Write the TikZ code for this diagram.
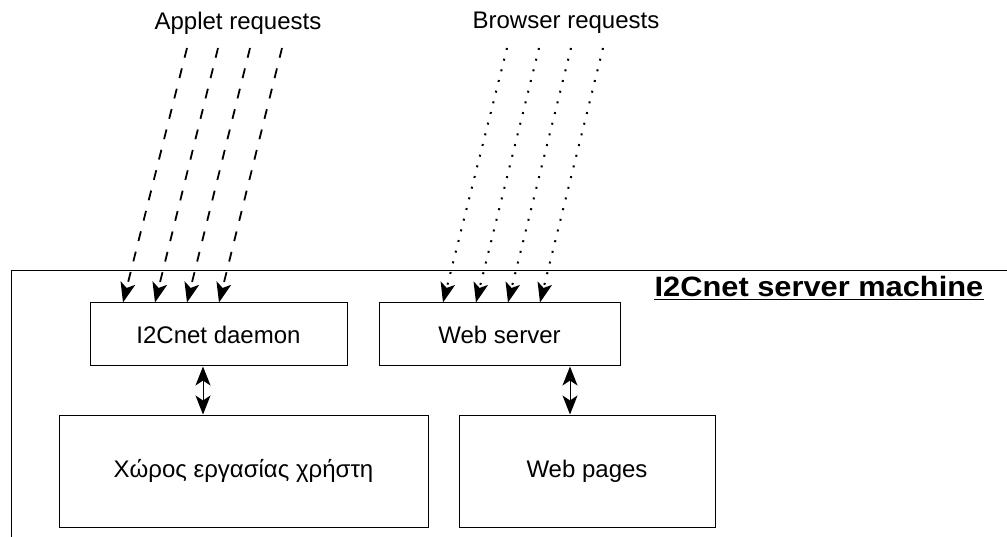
\documentclass[tikz,border=0pt]{standalone}
\usepackage{fontspec}
\setmainfont{Liberation Sans}
\usetikzlibrary{arrows.meta}
\begin{document}
\begin{tikzpicture}[x=1pt,y=-1pt,
  box/.style={draw=black,line width=1pt,inner sep=0pt,align=center,
    font=\fontsize{24}{28}\selectfont},
  lbl/.style={inner sep=0pt,font=\fontsize{24}{28}\selectfont},
  applet/.style={line width=1.8pt,dash pattern=on 10pt off 11pt,
    -{Stealth[length=20pt,width=15pt,inset=5pt]}},
  browser/.style={line width=2pt,dash pattern=on 2pt off 9pt,
    -{Stealth[length=20pt,width=15pt,inset=5pt,line width=0pt]}},
  bidir/.style={line width=1pt,
    {Stealth[length=19pt,width=15pt,inset=5pt]}-{Stealth[length=19pt,width=15pt,inset=5pt]}}]
\useasboundingbox (0,0) rectangle (1007,537);
% frame
\draw[line width=1pt] (1007,271) -- (11,271) -- (11,537);
% boxes
\node[box,minimum width=257pt,minimum height=63pt] (daemon) at (218.5,334.5) {I2Cnet daemon};
\node[box,minimum width=241pt,minimum height=63pt] (websrv) at (499.5,334.5) {Web server};
\node[box,minimum width=369pt,minimum height=112pt] (space) at (243.5,471) {Χώρος εργασίας χρήστη};
\node[box,minimum width=256pt,minimum height=112pt] (pages) at (587,471) {Web pages};
% title
\node[inner sep=0pt,font=\fontsize{28}{32}\selectfont\bfseries] (title) at (819,286) {\scalebox{1.1}[1]{I2Cnet server machine}};
\draw[line width=1.8pt] ([yshift=-3.5pt]title.base west) -- ([yshift=-3.5pt]title.base east);
% labels
\node[lbl] (applab) at (238,23) {Applet requests};
\node[lbl] (brlab) at (566,23) {Browser requests};
% applet request starts and ends
\foreach \i/\sx/\ex in {1/187/123,2/218/155,3/250/187,4/282/219}{
  \coordinate (as\i) at (\sx,48);
  \coordinate (ae\i) at (\ex,0);
  \draw[applet] (as\i) -- (daemon.north -| ae\i);
}
\foreach \i/\sx/\ex in {1/507/443,2/539/476,3/571/508,4/603/540}{
  \coordinate (bs\i) at (\sx,48);
  \coordinate (be\i) at (\ex,0);
  \draw[browser] (bs\i) -- (websrv.north -| be\i);
}
% bidirectional
\coordinate (d1) at (203,0);
\coordinate (d2) at (570,0);
\draw[bidir] (daemon.south -| d1) -- (space.north -| d1);
\draw[bidir] (websrv.south -| d2) -- (pages.north -| d2);
\end{tikzpicture}
\end{document}
